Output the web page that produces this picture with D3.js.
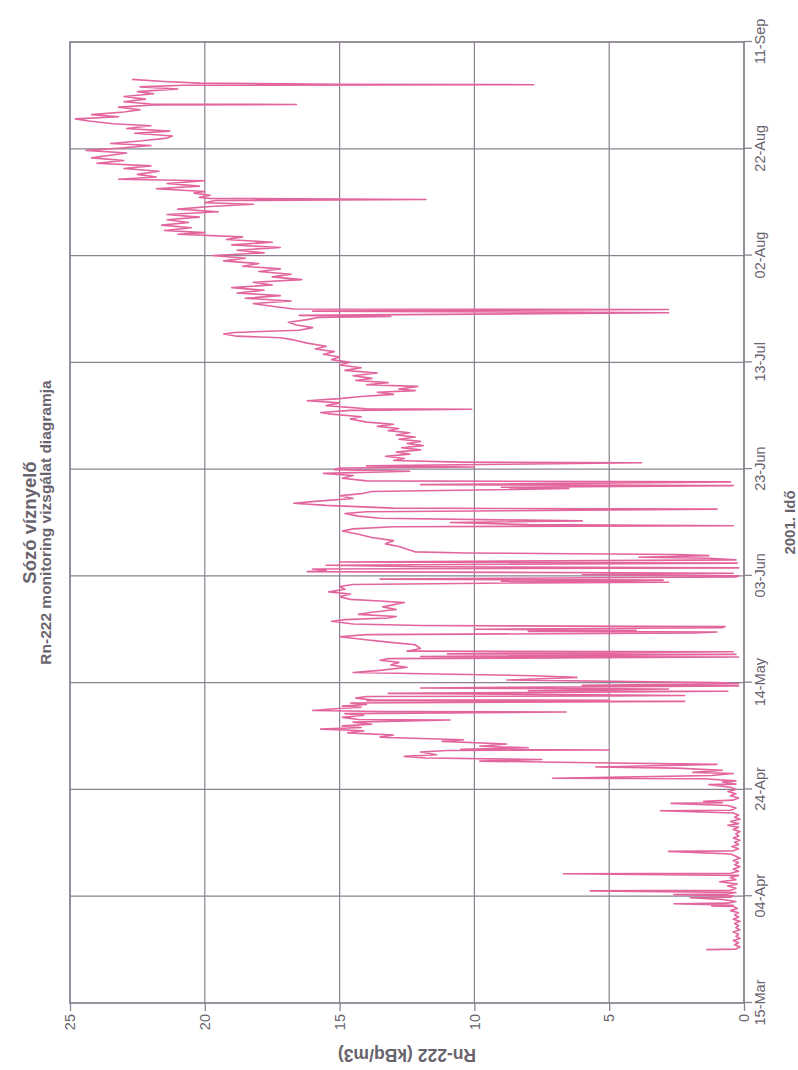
<!DOCTYPE html>
<html>
<head>
<meta charset="utf-8">
<script src="https://cdn.jsdelivr.net/npm/d3@7"></script>
<style>
  body { margin: 0; background: #ffffff; }
  svg { display: block; }
  text { font-family: "Liberation Sans", Arial, Helvetica, sans-serif; }
</style>
</head>
<body>
<svg id="chart" width="798" height="1070"></svg>
<script>
// Rn-222 readings, Sózó víznyelő, 2001.
// Each reading is [days since 15-Mar, Rn-222 in kBq/m3].
const startDate = new Date(2001, 2, 15);
const spanDays = 180;

const dateTickLabels = ["15-Mar", "04-Apr", "24-Apr", "14-May", "03-Jun",
                        "23-Jun", "13-Jul", "02-Aug", "22-Aug", "11-Sep"];
const valueTicks = [0, 5, 10, 15, 20, 25];

const marchReadings = [
  [10.0,1.4],[10.1,0.3],[10.5,0.15],[10.9,0.35],[11.3,0.2],[11.7,0.4],[12.1,0.15],
  [12.5,0.3],[12.9,0.2],[13.3,0.4],[13.7,0.15],[14.1,0.3],[14.5,0.2],[14.9,0.35],
  [15.3,0.15],[15.7,0.4],[16.1,0.2],[16.5,0.35]
];

const aprilReadings = [
  [16.9,0.2],[17.3,0.5],[17.7,0.25],[18.1,0.4],[18.2,1.2],[18.3,0.4],[18.6,2.6],[18.7,0.6],
  [19.0,0.3],[19.4,0.8],[19.7,2.0],[19.8,0.5],[20.1,0.4],[20.3,2.6],[20.4,0.6],[20.7,0.3],
  [21.0,5.7],[21.1,0.5],[21.5,0.3],[21.9,0.6],[22.3,0.25],[22.7,0.9],[23.1,0.3],[23.5,0.5],
  [23.9,0.2],[24.2,6.7],[24.3,0.5],[24.7,0.2],[25.1,0.4],[25.5,0.15],[25.9,0.35],[26.3,0.2],
  [26.7,0.4],[27.1,0.15],[27.5,0.3],[27.9,0.5],[28.4,2.8],[28.5,0.4],[28.9,0.2],[29.3,0.45],
  [29.7,0.2],[30.1,0.35],[30.5,0.15],[30.9,0.4],[31.3,0.2],[31.7,0.3],[32.1,0.15],[32.5,0.4],
  [32.9,0.2],[33.3,0.6],[33.6,0.2],[34.0,0.5],[34.4,0.15],[34.8,0.35],[35.2,0.2],[35.6,0.4],
  [36.0,3.1],[36.1,0.5],[36.5,0.3],[37.0,0.6],[37.4,2.7],[37.5,0.8],[37.8,1.5],[38.0,0.4],
  [38.4,0.2],[38.8,0.5],[39.2,0.3],[39.6,0.6],[40.0,0.3],[40.4,0.5],[40.9,1.3],[41.0,0.3],
  [41.4,0.8],[41.6,0.3],[42.0,1.5],[42.1,7.1],[42.3,4.5],[42.6,1.2],[43.0,0.4],[43.2,1.9],
  [43.6,0.8],[44.0,2.5],[44.2,5.5],[44.4,3.8],[44.7,1.0],[45.0,5.6],[45.3,9.8],[45.6,7.5],
  [45.9,11.8],[46.2,12.6],[46.5,11.4]
];

const mayReadings = [
  [47.0,12.0],[47.3,11.0],[47.4,5.0],[47.5,10.5],[47.8,8.0],[48.1,9.8],[48.5,8.8],[49.0,11.2],
  [49.3,10.4],[49.6,12.3],[49.8,13.5],[50.2,13.0],[50.6,14.7],[51.0,14.1],[51.3,15.7],[51.6,14.2],
  [51.9,14.9],[52.2,13.8],[52.6,14.5],[53.0,10.9],[53.1,14.3],[53.5,14.9],[53.9,14.1],[54.2,14.8],
  [54.5,6.6],[54.6,13.5],[54.8,16.0],[55.1,15.2],[55.4,14.2],[55.6,14.9],[55.9,14.0],[56.2,14.6],
  [56.5,2.2],[56.6,14.0],[56.7,5.0],[56.8,13.8],[57.1,14.4],[57.4,14.0],[57.5,5.0],[57.6,2.2],
  [57.8,8.0],[58.0,13.2],[58.4,0.6],[58.5,8.0],[58.8,2.8],[59.0,12.0],[59.4,0.2],[59.5,6.0],
  [59.8,0.2],[60.0,1.0],[60.5,8.8],[61.0,6.2],[61.3,7.8],[61.9,14.5],[62.3,13.5],[62.9,12.5],
  [63.3,13.1],[63.8,12.8],[64.2,13.5],[64.5,13.2],[64.8,0.2],[64.9,12.0],[65.3,0.3],[65.4,11.0],
  [65.8,0.4],[65.9,12.5],[66.4,12.0],[67.1,12.2],[67.6,13.2],[68.1,14.1],[68.6,15.0],[69.0,14.0],
  [69.3,1.8],[69.5,1.0],[69.6,8.0],[69.8,4.0],[70.0,10.0],[70.3,0.8],[70.5,0.7],[70.7,12.0],
  [71.0,14.5],[71.5,15.3],[71.8,14.8],[72.1,13.2],[72.4,12.9],[72.8,14.3],[73.2,13.8],[73.7,12.9],
  [74.2,13.4],[75.0,12.6],[75.3,13.5],[75.6,14.6],[76.1,15.0],[76.6,14.6],[77.0,15.4],[77.5,14.8]
];

const juneReadings = [
  [78.0,15.0],[78.4,14.5],[78.7,8.0],[78.8,2.8],[79.0,9.0],[79.2,3.0],[79.4,13.5],[79.8,0.3],
  [80.0,0.2],[80.2,6.0],[80.5,0.4],[80.8,16.2],[81.0,15.5],[81.3,16.0],[81.5,0.2],[81.7,12.0],
  [82.0,15.5],[82.4,0.25],[82.6,15.0],[83.0,0.3],[83.3,1.3],[83.5,3.9],[83.8,1.3],[84.0,2.5],
  [84.3,10.3],[84.5,12.2],[85.0,12.5],[85.5,12.8],[86.0,13.3],[86.6,13.0],[87.2,13.8],[87.8,14.3],
  [88.4,14.9],[88.8,14.5],[89.2,13.0],[89.4,0.4],[89.6,8.0],[90.0,10.9],[90.3,6.0],[90.5,9.0],
  [90.8,13.5],[91.2,14.3],[91.7,14.8],[92.0,14.0],[92.5,1.0],[92.7,13.0],[93.2,15.5],[93.6,16.7],
  [94.0,15.8],[94.5,14.5],[95.0,15.0],[95.4,14.2],[95.8,13.8],[96.2,8.5],[96.4,6.5],[96.6,9.0],
  [96.9,0.4],[97.1,12.0],[97.6,0.5],[97.8,14.0],[98.3,14.9],[98.8,14.5],[99.2,15.6],[99.6,12.4],
  [99.9,15.2],[100.2,15.0],[100.4,10.0],[100.6,14.0],[100.9,9.0],[101.2,3.8],[101.3,10.5],[101.6,13.0],
  [102.0,12.6],[102.4,13.3],[102.8,12.4],[103.2,12.9],[103.6,12.0],[104.0,12.7],[104.4,11.9],[104.8,12.5],
  [105.2,12.0],[105.6,12.8],[106.0,12.2],[106.4,12.9],[106.8,12.4],[107.2,13.2],[107.6,12.8]
];

const julyReadings = [
  [108.0,13.6],[108.4,13.0],[108.8,14.0],[109.4,14.6],[109.8,14.2],[110.3,15.3],[110.6,15.7],[111.0,14.6],
  [111.2,10.1],[111.3,14.0],[111.9,15.5],[112.4,15.0],[112.8,16.2],[113.2,15.0],[113.6,14.2],[114.0,13.0],
  [114.4,13.6],[114.7,12.2],[115.0,12.8],[115.5,12.1],[115.8,14.0],[116.2,13.2],[116.6,14.4],[117.0,13.8],
  [117.5,14.5],[118.0,13.6],[118.5,14.8],[119.0,14.2],[119.5,15.0],[120.0,14.6],[120.5,15.3],[121.0,15.0],
  [121.5,15.6],[122.0,15.2],[122.5,15.9],[123.0,15.5],[123.6,16.2],[124.2,16.7],[124.6,17.2],[124.9,18.8],
  [125.3,19.3],[125.6,18.9],[126.0,16.5],[126.5,16.0],[127.0,16.6],[127.5,16.9],[128.0,16.2],[128.4,15.8],
  [128.6,13.1],[128.8,16.5],[129.3,2.8],[129.4,7.0],[129.6,16.0],[129.9,2.8],[130.0,16.7],[130.5,17.5],
  [131.0,18.2],[131.5,16.8],[132.0,18.5],[132.5,17.2],[133.0,18.8],[133.5,17.8],[134.0,19.0],[134.5,17.5],
  [135.0,18.2],[135.5,16.4],[136.0,17.5],[136.5,16.8],[137.0,18.0],[137.5,17.2],[138.0,18.6],[138.5,18.0]
];

const augustReadings = [
  [139.0,19.3],[139.5,18.5],[140.0,19.7],[140.5,17.8],[141.0,18.8],[141.5,17.2],[142.0,19.0],[142.5,17.5],
  [143.0,19.2],[143.5,18.6],[144.0,21.0],[144.3,20.0],[144.7,21.5],[145.2,20.5],[145.7,21.6],[146.2,20.6],
  [146.7,21.4],[147.2,20.2],[147.7,21.4],[148.2,19.5],[148.7,21.0],[149.2,19.8],[149.6,18.2],[149.9,20.0],
  [150.3,19.6],[150.5,11.8],[150.7,19.8],[150.9,20.2],[151.3,19.8],[151.7,20.4],[152.0,20.0],[152.5,21.8],
  [153.0,20.2],[153.5,21.4],[154.0,20.0],[154.3,23.2],[154.7,21.8],[155.2,22.5],[155.8,21.7],[156.3,23.0],
  [156.8,22.0],[157.3,24.0],[157.8,23.0],[158.3,24.2],[158.8,23.5],[159.2,22.9],[159.7,24.4],[160.1,23.2],
  [160.6,22.0],[161.0,23.5],[161.5,22.3],[162.0,21.4],[162.4,21.2],[162.9,22.6],[163.3,21.3],[163.8,22.9],
  [164.3,22.0],[164.7,23.4],[165.2,24.3],[165.6,24.8],[166.0,23.2],[166.4,24.2],[166.9,23.0],[167.3,22.4],
  [167.8,23.2],[168.2,21.9],[168.3,16.6],[168.4,22.0],[168.8,23.0],[169.3,22.2],[169.8,23.0]
];

const septemberReadings = [
  [170.3,21.9],[170.7,22.5],[171.2,21.0],[171.6,22.4],[171.9,20.8],[172.0,7.8],[172.1,15.0],
  [172.3,20.2],[172.6,21.5],[173.0,22.7]
];

const readings = [].concat(marchReadings, aprilReadings, mayReadings, juneReadings,
                           julyReadings, augustReadings, septemberReadings);

// ---- layout: the chart is laid out landscape and turned a quarter turn onto the page
const pageW = 798, pageH = 1070;
const chartW = pageH, chartH = pageW;        // landscape frame
const plot = { left: 67, right: 1028, top: 70, bottom: 744 };

const gridColor = "#8a8290";
const textColor = "#68636d";
const lineColor = "#e3659e";

const dayToDate = d => new Date(startDate.getTime() + d * 864e5);

const x = d3.scaleTime()
  .domain([startDate, dayToDate(spanDays)])
  .range([plot.left, plot.right]);
const y = d3.scaleLinear()
  .domain([0, 25])
  .range([plot.bottom, plot.top]);

const dateTicks = dateTickLabels.map((_, i) => dayToDate(i * 20));

const svg = d3.select("#chart");
const g = svg.append("g")
  .attr("transform", `translate(0,${chartW}) rotate(-90)`);

// grid
g.append("g").selectAll("line.v").data(dateTicks).join("line")
  .attr("x1", d => x(d)).attr("x2", d => x(d))
  .attr("y1", plot.top).attr("y2", plot.bottom)
  .attr("stroke", gridColor).attr("stroke-width", 1.2);
g.append("g").selectAll("line.h").data(valueTicks).join("line")
  .attr("x1", plot.left).attr("x2", plot.right)
  .attr("y1", d => y(d)).attr("y2", d => y(d))
  .attr("stroke", gridColor).attr("stroke-width", 1.2);

// frame
g.append("rect")
  .attr("x", plot.left).attr("y", plot.top)
  .attr("width", plot.right - plot.left).attr("height", plot.bottom - plot.top)
  .attr("fill", "none").attr("stroke", gridColor).attr("stroke-width", 1.5);

// axes
const xAxis = d3.axisBottom(x).tickValues(dateTicks)
  .tickFormat((d, i) => dateTickLabels[i]).tickSize(8).tickPadding(3);
const yAxis = d3.axisLeft(y).tickValues(valueTicks).tickSize(8).tickPadding(3);

const gx = g.append("g").attr("transform", `translate(0,${plot.bottom})`).call(xAxis);
const gy = g.append("g").attr("transform", `translate(${plot.left},0)`).call(yAxis);
[gx, gy].forEach(a => {
  a.select(".domain").remove();
  a.selectAll(".tick line").attr("stroke", gridColor).attr("stroke-width", 1.3);
  a.selectAll(".tick text").attr("fill", textColor)
    .style("font-size", "14.5px")
    .style("font-family", "'Liberation Sans', Arial, sans-serif");
});

// data line
const line = d3.line()
  .x(r => x(dayToDate(r[0])))
  .y(r => y(r[1]));
g.append("path")
  .datum(readings)
  .attr("d", line)
  .attr("fill", "none")
  .attr("stroke", lineColor)
  .attr("stroke-width", 1.6)
  .attr("stroke-linejoin", "round");

// titles
const midX = (plot.left + plot.right) / 2;
g.append("text")
  .attr("x", midX).attr("y", 36)
  .attr("text-anchor", "middle")
  .attr("fill", textColor)
  .style("font-size", "18.5px").style("font-weight", "bold")
  .text("Sózó víznyelő");
g.append("text")
  .attr("x", midX).attr("y", 51)
  .attr("text-anchor", "middle")
  .attr("fill", textColor)
  .style("font-size", "15.5px").style("font-weight", "bold")
  .text("Rn-222 monitoring vizsgálat diagramja");

g.append("text")
  .attr("x", midX).attr("y", 795)
  .attr("text-anchor", "middle")
  .attr("fill", textColor)
  .style("font-size", "15px").style("font-weight", "bold")
  .text("2001. Idő");

g.append("text")
  .attr("transform", `translate(21,${(plot.top + plot.bottom) / 2}) rotate(-90)`)
  .attr("text-anchor", "middle")
  .attr("fill", textColor)
  .style("font-size", "17.5px").style("font-weight", "bold")
  .text("Rn-222 (kBq/m3)");
</script>
</body>
</html>
